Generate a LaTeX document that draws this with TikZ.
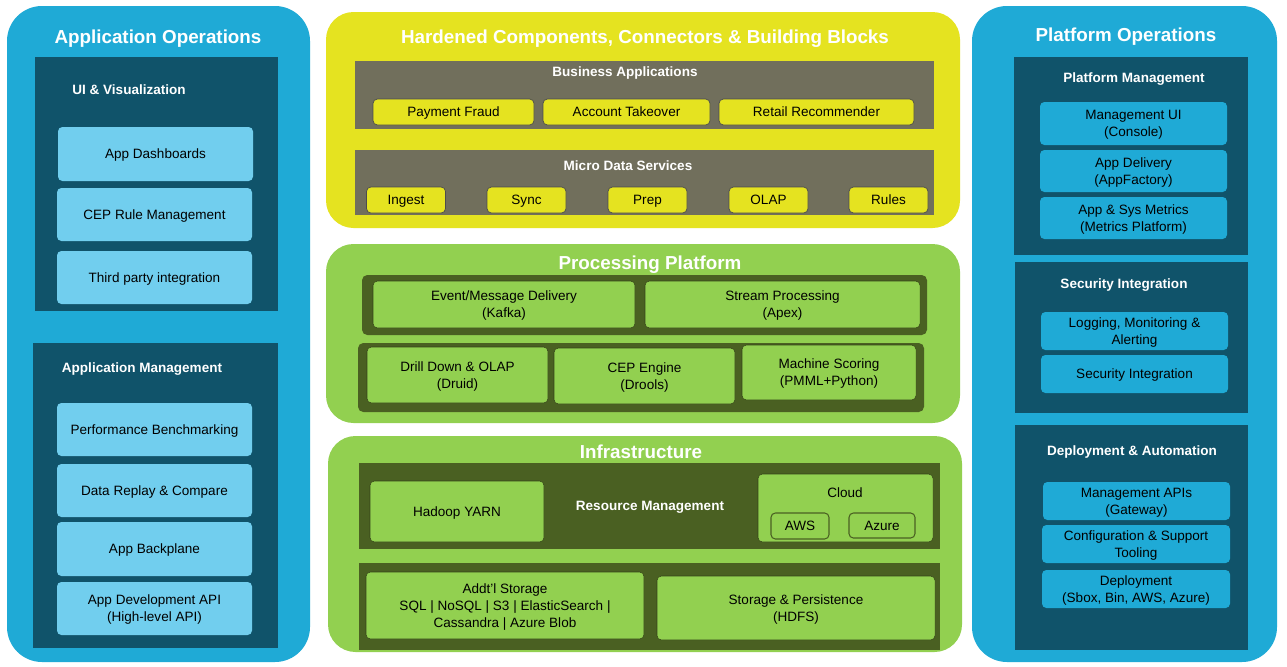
\documentclass[tikz,border=0pt]{standalone}
\usepackage{fontspec}
\setmainfont{Liberation Sans}
\usetikzlibrary{positioning}
\definecolor{opsblue}{RGB}{31, 170, 214}
\definecolor{deepteal}{RGB}{16, 83, 106}
\definecolor{skyitem}{RGB}{113, 206, 238}
\definecolor{lemon}{RGB}{229, 227, 32}
\definecolor{slate}{RGB}{113, 111, 92}
\definecolor{leaf}{RGB}{146, 208, 80}
\definecolor{moss}{RGB}{74, 96, 34}
\newcommand{\itemfont}{\fontsize{7.7}{9.6}\selectfont}
\newcommand{\headfont}{\fontsize{10.7}{13}\selectfont\bfseries}
\newcommand{\subfont}{\fontsize{7.7}{9.6}\selectfont\bfseries}

\tikzset{
 sz/.style 2 args={minimum width=#1*0.02cm, minimum height=#2*0.02cm},
 card/.style={rectangle, rounded corners=2.5pt, inner sep=0pt, text depth=0pt, align=center, font=\itemfont, text=black},
 skycard/.style={card, fill=skyitem},
 bluecard/.style={card, fill=opsblue},
 lemoncard/.style={card, fill=lemon, draw=black!70, line width=0.4pt},
 leafcard/.style={card, fill=leaf, draw=moss!70!black, line width=0.3pt},
 head/.style={font=\headfont, text=white, inner sep=0pt, yshift=-1.4pt},
 subhead/.style={font=\subfont, text=white, inner sep=0pt, yshift=-0.6pt},
}

\begin{document}
\begin{tikzpicture}[x=0.02cm, y=-0.02cm]
 \useasboundingbox[fill=white] (0, 0) rectangle (1287, 666);

 % application operations
 \fill[opsblue, rounded corners=0.7cm] (7, 6) rectangle (310, 662);
 \node[head] (appops) at (158, 36) {Application Operations};
 \fill[deepteal] (35, 57) rectangle (278, 311);
 \node[subhead] (uivis) at (129, 89) {UI \& Visualization};
 \node[skycard, sz={195}{54}] (dash) at (155.5, 154) {App Dashboards};
 \node[skycard, sz={195}{53}] (cepr) at (154.5, 214.5) {CEP Rule Management};
 \node[skycard, sz={195}{53}] (third) at (154.5, 277.5) {Third party integration};
 \fill[deepteal] (33, 343) rectangle (278, 648);
 \node[subhead] (appmgmt) at (142, 368) {Application Management};
 \node[skycard, sz={195}{53}] (perf) at (154.5, 429.5) {Performance Benchmarking};
 \node[skycard, sz={195}{53}] (replay) at (154.5, 490.5) {Data Replay \& Compare};
 \node[skycard, sz={195}{54}] (backpl) at (154.5, 549) {App Backplane};
 \node[skycard, sz={195}{53}] (devapi) at (154.5, 608.5) {App Development API\\(High-level API)};

 % hardened components
 \fill[lemon, rounded corners=0.55cm] (326, 12) rectangle (960, 228);
 \node[head] (hardened) at (645, 36) {Hardened Components, Connectors \& Building Blocks};
 \fill[slate] (355, 61) rectangle (934, 129);
 \node[subhead] (bizapps) at (625, 72) {Business Applications};
 \node[lemoncard, sz={161}{26}] (fraud) at (453.5, 112) {Payment Fraud};
 \node[lemoncard, sz={167}{26}] (takeover) at (626.5, 112) {Account Takeover};
 \node[lemoncard, sz={195}{26}] (retail) at (816.5, 112) {Retail Recommender};
 \fill[slate] (355, 150) rectangle (934, 215);
 \node[subhead] (microsvc) at (628, 165) {Micro Data Services};
 \node[lemoncard, sz={79}{26}] (ingest) at (406, 200) {Ingest};
 \node[lemoncard, sz={79}{26}] (sync) at (526.5, 200) {Sync};
 \node[lemoncard, sz={79}{26}] (prep) at (647.5, 200) {Prep};
 \node[lemoncard, sz={79}{26}] (olap) at (768.5, 200) {OLAP};
 \node[lemoncard, sz={79}{26}] (rules) at (888.5, 200) {Rules};

 % processing platform
 \fill[leaf, rounded corners=0.55cm] (326, 244) rectangle (960, 423);
 \node[head] (procplat) at (650, 262) {Processing Platform};
 \fill[moss, rounded corners=3pt] (362, 275) rectangle (927, 335);
 \node[leafcard, sz={262}{47}] (kafka) at (504, 304.5) {Event/Message Delivery\\(Kafka)};
 \node[leafcard, sz={275}{47}] (apex) at (782.5, 304.5) {Stream Processing\\(Apex)};
 \fill[moss, rounded corners=3pt] (358, 343) rectangle (924, 412);
 \node[leafcard, sz={181}{56}] (druid) at (457.5, 375) {Drill Down \& OLAP\\(Druid)};
 \node[leafcard, sz={181}{56}] (drools) at (644.5, 376) {CEP Engine\\(Drools)};
 \node[leafcard, sz={174}{55}] (pmml) at (829, 372.5) {Machine Scoring\\(PMML+Python)};

 % infrastructure
 \fill[leaf, rounded corners=0.55cm] (328, 436) rectangle (962, 652);
 \node[head] (infra) at (641, 449) {Infrastructure};
 \fill[moss] (359, 463) rectangle (940, 549);
 \node[leafcard, sz={174}{61}] (yarn) at (457, 511.5) {Hadoop YARN};
 \node[subhead] (resmgmt) at (650, 506) {Resource Management};
 \node[leafcard, sz={175}{68}] (cloud) at (845.5, 508) {};
 \node[font=\itemfont, inner sep=0pt, text depth=0pt] (cloudlbl) at (845, 493) {Cloud};
 \node[leafcard, draw=moss, line width=0.6pt, sz={58}{26}] (aws) at (800, 526) {AWS};
 \node[leafcard, draw=moss, line width=0.6pt, sz={66}{25}] (azure) at (882, 525.5) {Azure};
 \fill[moss] (359, 563) rectangle (940, 650);
 \node[leafcard, sz={278}{67}] (addtl) at (505, 605.5) {Addt'l Storage\\SQL | NoSQL | S3 | ElasticSearch |\\Cassandra | Azure Blob};
 \node[leafcard, sz={278}{64}] (hdfs) at (796, 608) {Storage \& Persistence\\(HDFS)};

 % platform operations
 \fill[opsblue, rounded corners=0.7cm] (972, 6) rectangle (1277, 662);
 \node[head] (platops) at (1126, 34) {Platform Operations};
 \fill[deepteal] (1014, 57) rectangle (1248, 255);
 \node[subhead] (platmgmt) at (1134, 78) {Platform Management};
 \node[bluecard, sz={187}{43}] (console) at (1133.5, 123.5) {Management UI\\(Console)};
 \node[bluecard, sz={187}{42}] (appfact) at (1133.5, 171) {App Delivery\\(AppFactory)};
 \node[bluecard, sz={187}{42}] (metrics) at (1133.5, 218) {App \& Sys Metrics\\(Metrics Platform)};
 \fill[deepteal] (1015, 262) rectangle (1248, 413);
 \node[subhead] (secint) at (1124, 284) {Security Integration};
 \node[bluecard, sz={187}{38}] (logging) at (1134.5, 331) {Logging, Monitoring \&\\Alerting};
 \node[bluecard, sz={187}{38}] (security) at (1134.5, 374) {Security Integration};
 \fill[deepteal] (1015, 425) rectangle (1248, 650);
 \node[subhead] (deploy) at (1132, 451) {Deployment \& Automation};
 \node[bluecard, sz={187}{38}] (gateway) at (1136.5, 501) {Management APIs\\(Gateway)};
 \node[bluecard, sz={188}{38}] (tooling) at (1136, 544) {Configuration \& Support\\Tooling};
 \node[bluecard, sz={188}{38}] (sbox) at (1136, 589) {Deployment\\(Sbox, Bin, AWS, Azure)};
\end{tikzpicture}
\end{document}
